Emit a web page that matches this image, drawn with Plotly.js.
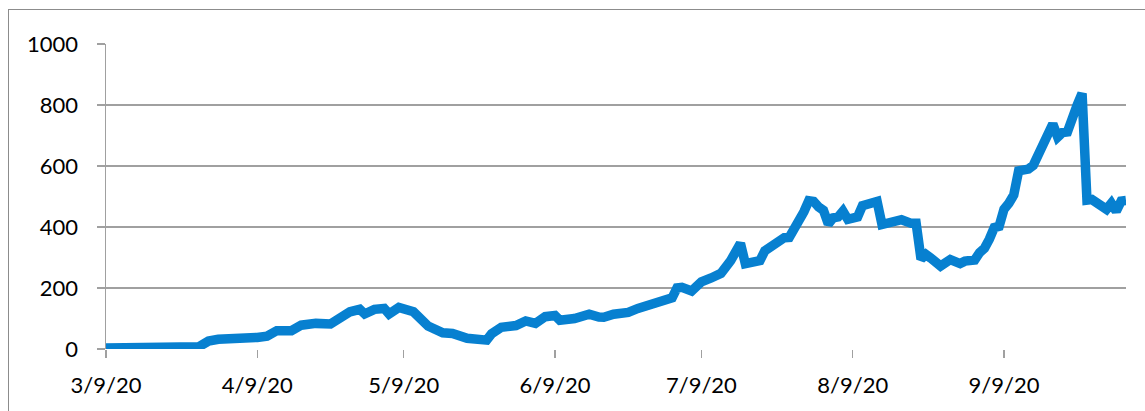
<!DOCTYPE html>
<html>
<head>
<meta charset="utf-8">
<script src="https://cdn.plot.ly/plotly-3.0.1.min.js"></script>
<style>
  html, body { margin: 0; padding: 0; background: #fff; }
  #wrap { position: relative; width: 1145px; height: 411px; overflow: hidden; }
  #chart { position: absolute; left: 0; top: 0; width: 1145px; height: 411px; }
  #frame { position: absolute; left: 8px; top: 9px; width: 1200px; height: 500px;
           border-left: 1px solid #8c8c8c; border-top: 1px solid #8c8c8c; pointer-events: none; }
</style>
</head>
<body>
<div id="wrap">
  <div id="chart"></div>
  <div id="frame"></div>
</div>
<script>
const dates = [
  '2020-03-09','2020-03-19','2020-03-28','2020-03-30','2020-04-01','2020-04-09','2020-04-11','2020-04-13',
  '2020-04-16','2020-04-18','2020-04-21','2020-04-24','2020-04-26','2020-04-28','2020-04-30','2020-05-01',
  '2020-05-03','2020-05-05','2020-05-06','2020-05-08','2020-05-11','2020-05-13','2020-05-14','2020-05-17',
  '2020-05-19','2020-05-22','2020-05-24','2020-05-26','2020-05-27','2020-05-28','2020-05-29','2020-06-01',
  '2020-06-03','2020-06-05','2020-06-07','2020-06-09','2020-06-10','2020-06-13','2020-06-15','2020-06-16',
  '2020-06-18','2020-06-19','2020-06-21','2020-06-24','2020-06-26','2020-06-29','2020-07-01','2020-07-03',
  '2020-07-04','2020-07-05','2020-07-07','2020-07-09','2020-07-11','2020-07-13','2020-07-15','2020-07-16',
  '2020-07-17','2020-07-18','2020-07-21','2020-07-22','2020-07-24','2020-07-26','2020-07-27','2020-07-29',
  '2020-07-30','2020-07-31','2020-08-01','2020-08-02','2020-08-03','2020-08-04','2020-08-05','2020-08-06',
  '2020-08-07','2020-08-08','2020-08-10','2020-08-11','2020-08-13','2020-08-14','2020-08-15','2020-08-16',
  '2020-08-18','2020-08-19','2020-08-21','2020-08-22','2020-08-23','2020-08-24','2020-08-25','2020-08-26',
  '2020-08-27','2020-08-29','2020-08-31','2020-09-01','2020-09-03','2020-09-04','2020-09-05','2020-09-06',
  '2020-09-07','2020-09-08','2020-09-09','2020-09-10','2020-09-11','2020-09-12','2020-09-14','2020-09-15',
  '2020-09-16','2020-09-17','2020-09-18','2020-09-19','2020-09-20','2020-09-21','2020-09-22','2020-09-23',
  '2020-09-24','2020-09-25','2020-09-26','2020-09-27','2020-09-29','2020-09-30','2020-10-01','2020-10-02',
  '2020-10-03','2020-10-04'
];
const values = [
  3, 5, 7, 26, 32, 38, 42, 60,
  60, 78, 84, 82, 106, 122, 130, 115,
  130, 133, 115, 136, 122, 84, 75, 53,
  51, 35, 29, 29, 50, 62, 71, 77,
  92, 84, 106, 110, 94, 100, 110, 114,
  105, 104, 114, 120, 133, 148, 158, 168,
  200, 202, 190, 220, 233, 248, 290, 312,
  346, 280, 290, 322, 343, 365, 366, 415,
  450, 486, 484, 466, 455, 410, 430, 433,
  452, 425, 433, 470, 484, 484, 408, 412,
  422, 424, 412, 412, 295, 310, 298, 280,
  272, 293, 280, 288, 292, 316, 330, 360,
  398, 402, 458, 478, 505, 584, 590, 602,
  640, 660, 700, 738, 695, 710, 712, 770,
  800, 838, 488, 490, 468, 458, 478, 452,
  485, 487
];
const xTickVals = ['2020-03-09','2020-04-09','2020-05-09','2020-06-09','2020-07-09','2020-08-09','2020-09-09'];
const xTickText = ['3/9/20','4/9/20','5/9/20','6/9/20','7/9/20','8/9/20','9/9/20'];
const yTickVals = [0, 200, 400, 600, 800, 1000];

const trace = {
  x: dates, y: values, type: 'scatter', mode: 'lines',
  line: { color: '#0780d0', width: 9.5, shape: 'linear' },
  hoverinfo: 'x+y', showlegend: false, cliponaxis: false
};

const layout = {
  width: 1145, height: 411,
  margin: { l: 106, r: 19, t: 43.5, b: 62 },
  paper_bgcolor: 'rgba(0,0,0,0)', plot_bgcolor: '#fff',
  font: { family: 'Lato, "Open Sans", sans-serif', size: 22, color: '#000' },
  xaxis: {
    type: 'date', range: ['2020-03-09', '2020-10-04'],
    tickvals: xTickVals, ticktext: xTickText,
    showgrid: false, zeroline: false,
    showline: false,
    ticks: 'outside', ticklen: 8, tickwidth: 1.5, tickcolor: '#a0a0a0',
    ticklabelstandoff: 9,
    tickfont: { family: 'Lato, "Open Sans", sans-serif', size: 22, color: '#000' }
  },
  yaxis: {
    range: [0, 1000], tickvals: yTickVals, ticktext: yTickVals.map(String),
    showgrid: true, gridcolor: '#a0a0a0', gridwidth: 1.5,
    zeroline: false, showline: true, linecolor: '#a0a0a0', linewidth: 1.5,
    ticks: 'outside', ticklen: 8, tickwidth: 1.5, tickcolor: '#a0a0a0',
    ticklabelstandoff: 14,
    tickfont: { family: 'Lato, "Open Sans", sans-serif', size: 22, color: '#000' }
  }
};

Plotly.newPlot('chart', [trace], layout, { displayModeBar: false, staticPlot: true });
</script>
</body>
</html>
